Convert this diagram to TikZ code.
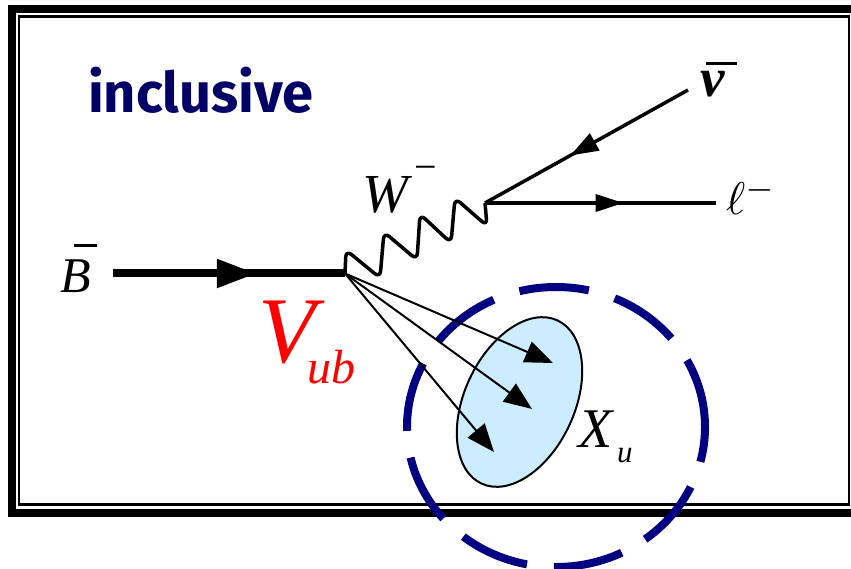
\documentclass[tikz,border=0pt]{standalone}
\usepackage{graphicx}
\usepackage{fontspec}
\setmainfont{Liberation Serif}
\newfontfamily\incfont{Fira Sans}
\usetikzlibrary{arrows.meta,decorations.markings}
\definecolor{navytext}{RGB}{0,0,102}
\definecolor{navyring}{RGB}{0,0,128}
\definecolor{xfill}{RGB}{204,236,255}
\tikzset{
  lbl/.style={inner sep=0pt, outer sep=0pt, anchor=base west},
  midarrow/.style 2 args={postaction={decorate},
     decoration={markings, mark=at position #1 with {\arrow{#2}}}},
  fermthick/.style={line width=8pt},
  fermthin/.style={line width=3.5pt},
  boson/.style={line width=3.5pt, rounded corners=7pt, line join=round},
  hadron/.style={line width=2pt, -{Triangle[length=28pt,width=22pt]}},
  ring/.style={draw=navyring, line width=8pt, dash pattern=on 70pt off 27pt},
  blob/.style={draw=black, fill=xfill, line width=2pt}
}
\begin{document}
\begin{tikzpicture}[x=1pt,y=-1pt]
\useasboundingbox (0,0) rectangle (851,569);
% frame
\draw[line width=8pt] (11.5,9) rectangle (860,513);
\draw[line width=2.5pt] (19,16.5) rectangle (848.8,504.5);
% points
\coordinate (Bs) at (113,273.5);
\coordinate (V1) at (345,273.5);
\coordinate (V2) at (485,203);
\coordinate (Nu) at (688,90);
\coordinate (Le) at (716,203);
\coordinate (X1) at (553,363);
\coordinate (X2) at (532,409);
\coordinate (X3) at (494,452);
% dashed ring
\draw[ring] (556,427) ellipse [x radius=149pt, y radius=140pt];
% hadronic blob
\draw[blob, rotate around={65:(519.5,402)}] (519.5,402) ellipse [x radius=90pt, y radius=55pt];
% B line
\draw[fermthick, midarrow={0.62}{Triangle[length=40pt,width=27pt]}] (Bs) -- (V1);
% W boson
\draw[boson] (V1) -- (346,250) -- (380,278) -- (384,232) -- (417,260) -- (420,214)
   -- (451,243) -- (455,198) -- (487,226) -- (V2);
% leptons
\draw[fermthin, midarrow={0.58}{Triangle[length=28pt,width=19pt]}] (Nu) -- (V2);
\draw[fermthin, midarrow={0.6}{Triangle[length=28pt,width=17pt]}] (V2) -- (Le);
% hadrons
\draw[hadron] (V1) -- (X1);
\draw[hadron] (V1) -- (X2);
\draw[hadron] (V1) -- (X3);
% labels
\node[lbl, text=navytext] (inc) at (88,113) {\incfont\bfseries\fontsize{56}{56}\selectfont inclusive};
\node[lbl] (Blbl) at (60,293) {\fontsize{50}{50}\selectfont\rlap{\kern14pt\raisebox{46pt}{\rule{23pt}{3pt}}}\itshape B};
\node[lbl] (Wlbl) at (362,213) {\fontsize{55}{55}\selectfont\itshape W\kern7pt\raisebox{32pt}{\fontsize{40}{40}\selectfont\upshape −}};
\node[lbl, text=red] (Vlbl) at (258,362) {\fontsize{94}{94}\selectfont\itshape V\kern-8pt\raisebox{-21pt}{\fontsize{48}{48}\selectfont ub}};
\node[lbl] (Xlbl) at (578,447) {\fontsize{56}{56}\selectfont\itshape X\kern5pt\raisebox{-15pt}{\fontsize{31}{31}\selectfont u}};
\node[lbl] (nulbl) at (700,97) {\fontsize{55}{55}\selectfont\rlap{\kern6pt\raisebox{32pt}{\rule{31pt}{3pt}}}\bfseries\itshape ν};
\node[lbl] (llbl) at (726,215) {\scalebox{4.6}{$\ell^{-}$}};
\end{tikzpicture}
\end{document}
